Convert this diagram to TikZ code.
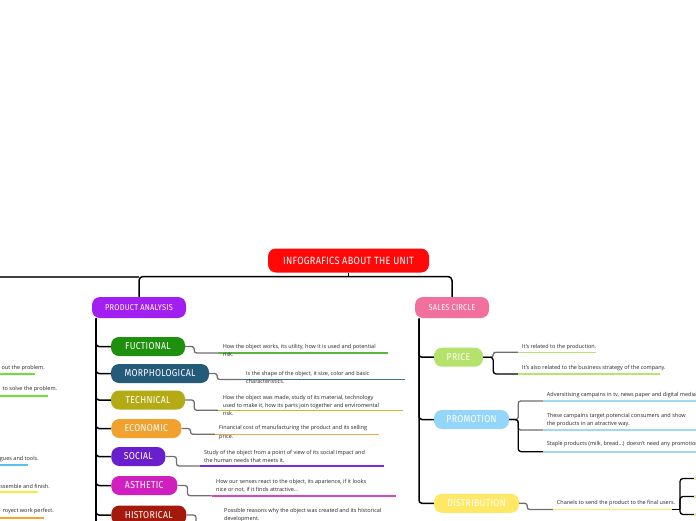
\documentclass[tikz,border=0pt]{standalone}
\usepackage{fontspec}
\setmainfont{Open Sans}
\newfontfamily\labfont[FakeStretch=0.87,LetterSpace=3]{Fira Sans}
\usetikzlibrary{calc}
\definecolor{tred}{HTML}{FF0808}
\definecolor{tpurple}{HTML}{A11FF0}
\definecolor{tpink}{HTML}{F2709E}
\definecolor{cfun}{HTML}{1E900E}
\definecolor{cmor}{HTML}{245A7A}
\definecolor{ctec}{HTML}{B4AB14}
\definecolor{ceco}{HTML}{F0A12E}
\definecolor{csoc}{HTML}{6A1FCF}
\definecolor{cast}{HTML}{D11FBF}
\definecolor{chis}{HTML}{A5190D}
\definecolor{cpri}{HTML}{B4E26A}
\definecolor{cpro}{HTML}{93D6F9}
\definecolor{cdis}{HTML}{FFE866}
\definecolor{ufun}{HTML}{5CB540}
\definecolor{umor}{HTML}{3A7596}
\definecolor{utec}{HTML}{C4BA2E}
\definecolor{ueco}{HTML}{F2A94B}
\definecolor{usoc}{HTML}{7B2DDE}
\definecolor{uast}{HTML}{D543C6}
\definecolor{upri}{HTML}{B7E36E}
\definecolor{upro}{HTML}{9FD9F6}
\definecolor{udis}{HTML}{FFE866}
\definecolor{lgreen}{HTML}{6BE03A}
\definecolor{lblue}{HTML}{5CC1F0}
\definecolor{lyellow}{HTML}{FFE53A}
\definecolor{lorange}{HTML}{F6A623}
\definecolor{txt}{HTML}{262626}
\definecolor{cgray}{HTML}{6E6E6E}
\begin{document}
\begin{tikzpicture}[x=1pt,y=-1pt,
  pill/.style={rounded corners=8pt, inner sep=0pt, text=white, minimum height=19pt,
    font=\labfont\fontsize{10}{10}\selectfont},
  mainpill/.style={pill, minimum height=21pt, font=\labfont\fontsize{8.5}{8.5}\selectfont},
  trunk/.style={draw=black, line width=1.5pt},
  lefttrunk/.style={draw=black!75, line width=2pt},
  conn/.style={draw=cgray, line width=1.3pt, rounded corners=2.5pt},
  junc/.style={draw=black, line width=1.3pt, rounded corners=3pt},
  uline/.style={line width=1.6pt},
  desc/.style={anchor=west, align=left, inner sep=0pt, text=txt, font=\fontsize{5.5}{8.3}\selectfont},
  ldesc/.style={anchor=east, align=right, inner sep=0pt, text=txt, font=\fontsize{5.5}{8.3}\selectfont}
]
\useasboundingbox (0,0) rectangle (696,520);
\clip (0,0) rectangle (696,520);

% ---------- main nodes
\node[pill, fill=tred, minimum width=161pt, minimum height=24pt,
  font=\labfont\fontsize{10.5}{10.5}\selectfont] (title) at (348.5,260.5) {INFOGRAFICS ABOUT THE UNIT};
\node[mainpill, fill=tpurple, minimum width=94pt] (pa) at (139,307.5) {PRODUCT ANALYSIS};
\node[mainpill, fill=tpink, minimum width=74pt] (sc) at (452,307.5) {SALES CIRCLE};

\coordinate (j) at (348.5,276.5);
\coordinate (offl) at (-10,276.5);
\draw[trunk] (title.south) -- (j);
\draw[trunk, rounded corners=4pt] (pa.north) |- (j) -| (sc.north);
\draw[lefttrunk] (offl) -- (pa.north |- j);

% ---------- product analysis children
\node[pill, fill=cfun, minimum width=74pt] (fun) at (148,346.5) {FUCTIONAL};
\node[pill, fill=cmor, minimum width=98pt] (mor) at (160,373.5) {MORPHOLOGICAL};
\node[pill, fill=ctec, minimum width=74pt] (tec) at (148,400) {TECHNICAL};
\node[pill, fill=ceco, minimum width=70pt] (eco) at (146.3,428.5) {ECONOMIC};
\node[pill, fill=csoc, minimum width=54pt] (soc) at (138.3,456.5) {SOCIAL};
\node[pill, fill=cast, minimum width=66pt] (ast) at (144.3,485.5) {ASTHETIC};
\node[pill, fill=chis, minimum width=75pt] (his) at (148.8,515) {HISTORICAL};

\coordinate (pat) at (96,318.5);
\coordinate (pab) at (96,530);
\draw[trunk] (pat) -- (pab);
\foreach \n in {fun,mor,tec,eco,soc,ast,his}
  \draw[trunk, rounded corners=3pt] (pat) |- (\n.west);

% descriptions
\coordinate (fun1) at (218,353);   \coordinate (fun2) at (388,353);
\coordinate (mor1) at (243,379.5); \coordinate (mor2) at (405,379.5);
\coordinate (tec1) at (218,410.3); \coordinate (tec2) at (403,410.3);
\coordinate (eco1) at (215,434.3); \coordinate (eco2) at (379,434.3);
\coordinate (soc1) at (200,466);   \coordinate (soc2) at (384,466);
\coordinate (ast1) at (211.7,495.7); \coordinate (ast2) at (396,495.7);
\coordinate (his1) at (220,526);   \coordinate (his2) at (400,526);

\draw[conn] (fun.east) -- ++(9,0) |- (fun1);
\draw[conn] (mor.east) -- ++(8,0) |- (mor1);
\draw[conn] (tec.east) -- ++(9,0) |- (tec1);
\draw[conn] (eco.east) -- ++(9,0) |- (eco1);
\draw[conn] (soc.east) -- ++(11,0) |- (soc1);
\draw[conn] (ast.east) -- ++(10,0) |- (ast1);
\draw[conn] (his.east) -- ++(9.5,0) |- (his1);

\draw[uline, ufun] (fun1) -- (fun2);
\draw[uline, umor] (mor1) -- (mor2);
\draw[uline, utec] (tec1) -- (tec2);
\draw[uline, ueco] (eco1) -- (eco2);
\draw[uline, usoc] (soc1) -- (soc2);
\draw[uline, uast] (ast1) -- (ast2);
\draw[uline, chis] (his1) -- (his2);

\node[desc] (dfun) at (222.7,350.4) {How the object works, its utility, how it is used and potential\\risk.};
\node[desc] (dmor) at (246,377.2) {Is the shape of the object, it size, color and basic\\characteristics.};
\node[desc] (dtec) at (222.7,405.3) {How the object was made, study of its material, technology\\used to make it, how its parts join together and enviromental\\risk.};
\node[desc] (deco) at (219,432.5) {Financial cost of manufacturing the product and its selling\\price.};
\node[desc] (dsoc) at (204,456.7) {Study of the object from a point of view of its social impact and\\the human needs that meets it.};
\node[desc] (dast) at (216,485.9) {How our senses react to the object, its aparience, if it looks\\nice or not, if it finds attractive...};
\node[desc] (dhis) at (224,514.9) {Possible reasons why the object was created and its historical\\development.};

% ---------- sales circle children
\node[pill, fill=cpri, minimum width=49pt] (pri) at (458.5,357.2) {PRICE};
\node[pill, fill=cpro, minimum width=75pt] (pro) at (471.5,419.5) {PROMOTION};
\node[pill, fill=cdis, minimum width=85pt] (dis) at (476.5,503.3) {DISTRIBUTION};

\coordinate (sct) at (419,318.5);
\foreach \n in {pri,pro,dis}
  \draw[trunk, rounded corners=3pt] (sct) |- (\n.west);

% price
\coordinate (pr1a) at (518,352.3); \coordinate (pr1b) at (596,352.3);
\coordinate (pr2a) at (518,374);   \coordinate (pr2b) at (660,374);
\draw[conn] (pri.east) -- ++(10,0) |- (pr1a);
\draw[junc] (pri.east) -- ++(10,0) |- (pr2a);
\draw[uline, upri] (pr1a) -- (pr1b);
\draw[uline, upri] (pr2a) -- (pr2b);
\node[desc] (dpr1) at (522,346.7) {It's related to the production.};
\node[desc] (dpr2) at (522,368.3) {It's also related to the business strategy of the company.};

% promotion
\coordinate (po1a) at (543,401);   \coordinate (po1b) at (700,401);
\coordinate (po2a) at (543,430);   \coordinate (po2b) at (700,430);
\coordinate (po3a) at (543,451.7); \coordinate (po3b) at (700,451.7);
\draw[conn] (pro.east) -- ++(9,0) |- (po1a);
\draw[conn] (pro.east) -- ++(9,0) |- (po2a);
\draw[junc] (pro.east) -- ++(9,0) |- (po3a);
\draw[uline, upro] (po1a) -- (po1b);
\draw[uline, upro] (po2a) -- (po2b);
\draw[uline, upro] (po3a) -- (po3b);
\node[desc] (dpo1) at (546.7,395) {Adversitising campains in tv, news paper and digital media.};
\node[desc] (dpo2) at (546.7,420) {These campains target potencial consumers and show\\the products in an atractive way.};
\node[desc] (dpo3) at (546.7,444.3) {Staple products (milk, bread...) doesn't need any promotion.};

% distribution
\coordinate (di1) at (553,509.5); \coordinate (di2) at (672,509.5);
\draw[conn] (dis.east) -- ++(8,0) |- (di1);
\draw[uline, udis] (di1) -- (di2);
\node[desc] (ddis) at (556.7,503.3) {Chanels to send the product to the final users.};
\coordinate (dj) at (680,509.5);
\coordinate (dc1) at (700,478.5);
\coordinate (dc2) at (700,496.5);
\coordinate (dc3) at (700,514.5);
\draw[junc] (di2) -- (dj);
\draw[junc] (dj) |- (dc1);
\draw[junc] (dj) |- (dc2);
\draw[junc] (dj) |- (dc3);
\draw[uline, udis] (694,478.5) -- (dc1);
\draw[uline, udis] (694,496.5) -- (dc2);
\draw[uline, udis] (694,514.5) -- (dc3);

% ---------- left (cut-off) branch texts
\coordinate (lg1) at (0,374);   \coordinate (lg1e) at (35,374);
\coordinate (lg2) at (0,395.7); \coordinate (lg2e) at (47.5,395.7);
\coordinate (lb1) at (0,465);   \coordinate (lb1e) at (28,465);
\coordinate (ly1) at (0,491.7); \coordinate (ly1e) at (38,491.7);
\coordinate (lo1) at (0,517.7); \coordinate (lo1e) at (44,517.7);
\draw[uline, lgreen] (lg1) -- (lg1e);
\draw[uline, lgreen] (lg2) -- (lg2e);
\draw[uline, lblue] (lb1) -- (lb1e);
\draw[uline, lyellow] (ly1) -- (ly1e);
\draw[uline, lorange] (lo1) -- (lo1e);
\node[ldesc] (l1) at (45,367.7) {out the problem.};
\node[ldesc] (l2) at (57.3,389.3) {to solve the problem.};
\node[ldesc] (l3) at (39,459) {gues and tools.};
\node[ldesc] (l4) at (50,486) {ssemble and finish.};
\node[ldesc] (l5) at (54,511) {royect work perfect.};
\end{tikzpicture}
\end{document}
